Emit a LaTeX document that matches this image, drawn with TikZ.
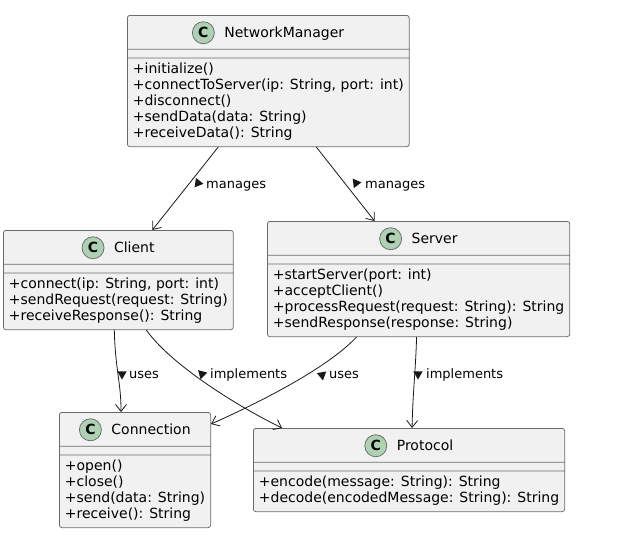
\documentclass[tikz,border=0pt]{standalone}
\usepackage{fontspec}
\usepackage{array}
\setmainfont{DejaVu Sans}
\usetikzlibrary{shapes.multipart,shapes.geometric,arrows.meta}

\definecolor{boxfill}{HTML}{F1F1F1}
\definecolor{boxline}{HTML}{181818}
\definecolor{boxedge}{HTML}{6A6A6A}
\definecolor{iconfill}{HTML}{ADD1B2}

% title row, empty field row and method list of a class box
\newcommand\clstitle[1]{\rule[-7pt]{0pt}{25pt}\hspace{32pt}#1}
\newcommand\nofields{\rule{0.1pt}{0pt}}
\newcommand\oplist[1]{\begin{tabular}{@{}>{\rule[-4.8pt]{0pt}{16pt}}l@{}}#1\end{tabular}}

\begin{document}
\begin{tikzpicture}
[x=1pt,y=-1pt,
cls/.style={rectangle split,rectangle split parts=3,draw=boxedge,fill=boxfill,line width=0.75pt,
  rounded corners=2.5pt,inner xsep=5.5pt,inner ysep=4pt,
  rectangle split part align={center,left,left},anchor=north west,font=\fontsize{14}{16}\selectfont},
icon/.style={circle,draw=boxedge,fill=iconfill,line width=0.75pt,minimum size=22pt,inner sep=0pt,
  font=\fontsize{14}{16}\selectfont\bfseries},
tri/.style={regular polygon,regular polygon sides=3,fill=boxline,inner sep=0pt,minimum size=11pt},
lbl/.style={anchor=base west,inner sep=0pt,font=\fontsize{13}{15}\selectfont},
arr/.style={-{Straight Barb[length=7pt,width=11pt]},draw=boxline,line width=0.8pt}]
\useasboundingbox (0,0) rectangle (628,550);

\node[cls] (nm) at (127,15) {\clstitle{NetworkManager}\nodepart{two}\nofields\nodepart{three}
  \oplist{+initialize()\\+connectToServer(ip: String, port: int)\\+disconnect()\\+sendData(data: String)\\+receiveData(): String}};
\node[cls] (client) at (3,230) {\clstitle{Client}\nodepart{two}\nofields\nodepart{three}
  \oplist{+connect(ip: String, port: int)\\+sendRequest(request: String)\\+receiveResponse(): String}};
\node[cls] (server) at (267,221) {\clstitle{Server}\nodepart{two}\nofields\nodepart{three}
  \oplist{+startServer(port: int)\\+acceptClient()\\+processRequest(request: String): String\\+sendResponse(response: String)}};
\node[cls] (conn) at (59,412) {\clstitle{Connection}\nodepart{two}\nofields\nodepart{three}
  \oplist{+open()\\+close()\\+send(data: String)\\+receive(): String}};
\node[cls] (proto) at (253,428) {\clstitle{Protocol}\nodepart{two}\nofields\nodepart{three}
  \oplist{+encode(message: String): String\\+decode(encodedMessage: String): String}};

\node[icon] (nmc) at ([xshift=11pt,yshift=5pt]nm.one) {C};
\node[icon] (clientc) at ([xshift=11pt,yshift=5pt]client.one) {C};
\node[icon] (serverc) at ([xshift=11pt,yshift=5pt]server.one) {C};
\node[icon] (connc) at ([xshift=11pt,yshift=5pt]conn.one) {C};
\node[icon] (protoc) at ([xshift=11pt,yshift=5pt]proto.one) {C};

\draw[arr] ([xshift=-50pt]nm.south) -- ([xshift=34pt]client.north);
\draw[arr] ([xshift=48pt]nm.south) -- ([xshift=-44pt]server.north);
\draw[arr] ([xshift=-4pt]client.south) .. controls +(1,40) and +(0,-30) .. ([xshift=-14pt]conn.north);
\draw[arr] ([xshift=28pt]client.south) .. controls +(25,35) and +(-45,-22) .. ([xshift=-127pt]proto.north);
\draw[arr] ([xshift=-62pt]server.south) .. controls +(-30,32) and +(45,-20) .. ([yshift=-12pt]conn.north east);
\draw[arr] ([xshift=-2pt]server.south) .. controls +(-1,35) and +(1,-40) .. ([xshift=3pt]proto.north);

\node[tri,rotate=142] (t1) at (198,183) {};
\node[lbl] (l1) at (206,188) {manages};
\node[tri,rotate=37] (t2) at (356,183) {};
\node[lbl] (l2) at (365,188) {manages};
\node[tri,rotate=180] (t3) at (122,374) {};
\node[lbl] (l3) at (129,378) {uses};
\node[tri,rotate=45] (t4) at (202,374) {};
\node[lbl] (l4) at (210,378) {implements};
\node[tri,rotate=-50] (t5) at (322,375) {};
\node[lbl] (l5) at (329,378) {uses};
\node[tri,rotate=180] (t6) at (418,374) {};
\node[lbl] (l6) at (426,378) {implements};
\end{tikzpicture}
\end{document}
